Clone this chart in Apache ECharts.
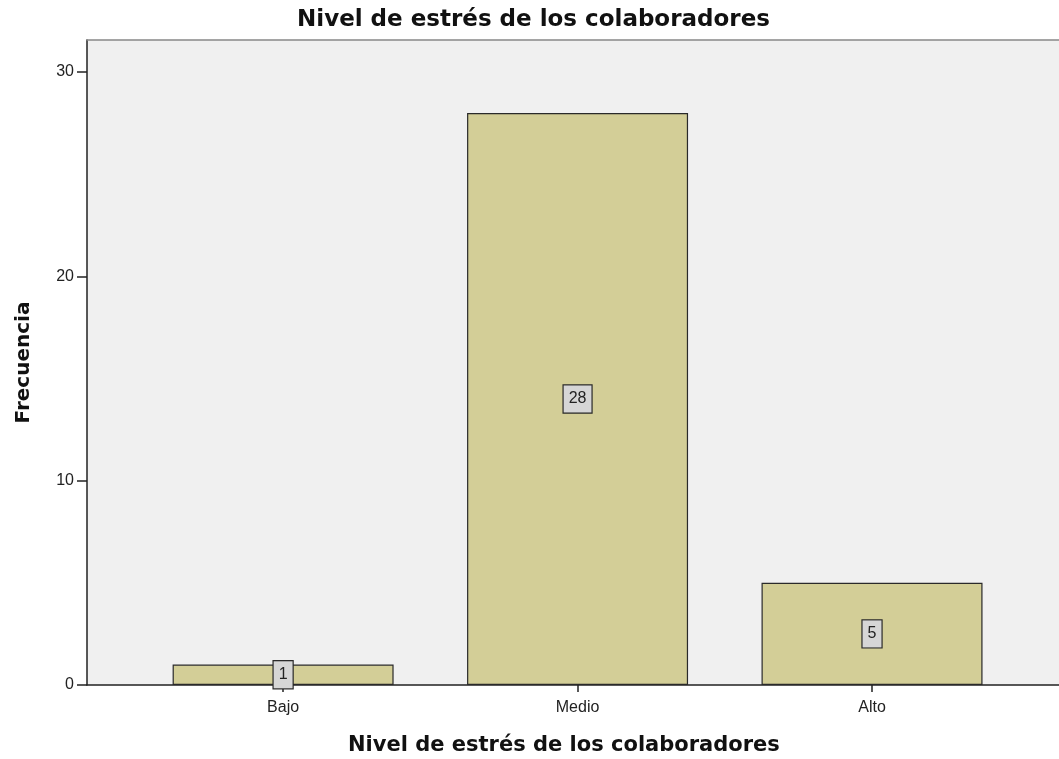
<!DOCTYPE html>
<html>
<head>
<meta charset="utf-8">
<style>
  html, body { margin: 0; padding: 0; background: #ffffff; }
  #chart { width: 1059px; height: 759px; }
</style>
<script src="https://cdn.jsdelivr.net/npm/echarts@6/dist/echarts.min.js"></script>
</head>
<body>
<div id="chart"></div>
<script>
// Frequency of stress levels among staff
const categories = ['Bajo', 'Medio', 'Alto'];
const frequencies = [1, 28, 5];
const yTicks = [0, 10, 20, 30];

const chartTitle = 'Nivel de estrés de los colaboradores';
const xTitle = 'Nivel de estrés de los colaboradores';
const yTitle = 'Frecuencia';

const labelFont = '"Liberation Sans", Arial, sans-serif';
const titleFont = '"DejaVu Sans", Verdana, sans-serif';

const chart = echarts.init(document.getElementById('chart'), null, { renderer: 'canvas' });

const xPositions = categories.map((_, i) => i);

chart.setOption({
  animation: false,
  backgroundColor: '#ffffff',
  title: [
    {
      text: chartTitle,
      left: 292,
      top: 4,
      textStyle: { fontFamily: titleFont, fontWeight: 'bold', fontSize: 23, color: '#111' }
    },
    {
      text: xTitle,
      left: 343,
      top: 730,
      textStyle: { fontFamily: titleFont, fontWeight: 'bold', fontSize: 21, color: '#111' }
    }
  ],
  grid: { left: 87, right: 0, top: 40, bottom: 74, show: true, backgroundColor: '#f0f0f0', borderWidth: 0 },
  xAxis: [
    {
      type: 'value',
      min: -0.666,
      max: 2.635,
      position: 'bottom',
      splitLine: { show: false },
      axisLine: { show: true, onZero: false, lineStyle: { color: '#222', width: 1.5 } },
      axisTick: { show: true, length: 7, customValues: xPositions, lineStyle: { color: '#222', width: 1.5 } },
      axisLabel: {
        customValues: xPositions,
        formatter: v => categories[Math.round(v)],
        fontFamily: labelFont, fontSize: 16, color: '#222', margin: 15
      }
    },
    {
      type: 'value',
      min: -0.666,
      max: 2.635,
      position: 'top',
      splitLine: { show: false },
      axisLine: { show: true, onZero: false, lineStyle: { color: '#888', width: 1.5 } },
      axisTick: { show: false },
      axisLabel: { show: false }
    }
  ],
  yAxis: {
    type: 'value',
    min: 0,
    max: 31.57,
    interval: 10,
    name: yTitle,
    nameLocation: 'middle',
    nameGap: 53,
    nameTextStyle: { fontFamily: titleFont, fontWeight: 'bold', fontSize: 20, color: '#111' },
    splitLine: { show: false },
    axisLine: { show: true, onZero: false, lineStyle: { color: '#222', width: 1.5 } },
    axisTick: { show: true, length: 10, customValues: yTicks, lineStyle: { color: '#222', width: 1.5 } },
    axisLabel: {
      customValues: yTicks,
      fontFamily: labelFont, fontSize: 16, color: '#222', margin: 13
    }
  },
  series: [
    {
      type: 'bar',
      xAxisIndex: 0,
      barWidth: 221,
      data: frequencies.map((v, i) => [i, v]),
      itemStyle: { color: '#d3ce97', borderColor: '#2a2a2a', borderWidth: 1.2 },
      label: {
        show: true,
        position: 'inside',
        formatter: p => String(p.value[1]),
        fontFamily: labelFont,
        fontSize: 16,
        color: '#222',
        backgroundColor: '#d6d6d6',
        borderColor: '#2a2a2a',
        borderWidth: 1.2,
        padding: [6, 5, 5, 5]
      }
    }
  ]
});
</script>
</body>
</html>
